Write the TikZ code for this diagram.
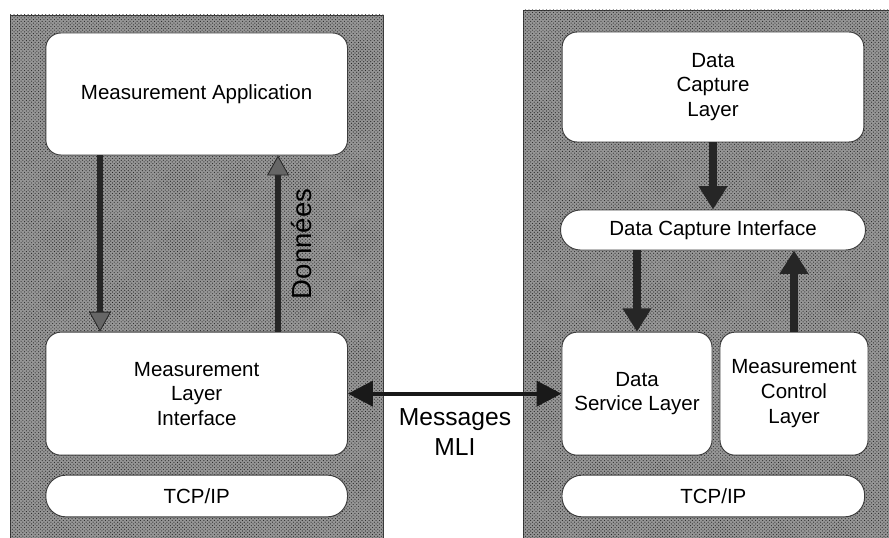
\documentclass[tikz,border=0pt]{standalone}
\usepackage{fontspec}
\setmainfont{Liberation Sans}
\usepackage{tikz}
\usetikzlibrary{arrows.meta,positioning,patterns}
\definecolor{mligray}{RGB}{60,60,60}
\definecolor{mlidots}{RGB}{150,150,150}

\begin{document}
\begin{tikzpicture}[
        panel/.style={draw=mligray, line width=0.8pt, fill=mlidots, postaction={pattern=crosshatch dots, pattern color=black!85}},
        layer/.style={draw=mligray, line width=0.8pt, fill=white, rounded corners=0.45cm, align=center, inner sep=2pt, font=\fontsize{17.5}{21}\selectfont},
        pill/.style={layer, rounded corners=0.6cm, minimum height=1.25cm},
        flow/.style={-{Triangle[length=0.7cm, width=0.82cm]}, line width=6pt, draw=black!85},
        grayflow/.style={-{Triangle[length=0.6cm, width=0.66cm, line width=0.7pt, fill=black!60]}, line width=5pt, draw=black!85},
        msgflow/.style={{Triangle[length=0.75cm, width=0.75cm]}-{Triangle[length=0.75cm, width=0.75cm]}, line width=3.5pt, draw=black!90},
        big/.style={font=\fontsize{21}{26}\selectfont, align=center}
      ]
      \useasboundingbox (0,0) rectangle (26.67,-16.14);
      \fill[white] (0,0) rectangle (26.67,-16.14);

      % two stations
      \path[panel] (0.30,-0.45) rectangle (11.49,-16.40);
      \path[panel] (15.69,-0.30) rectangle (26.90,-16.40);

      % measurement side
      \node[layer, minimum width=9.05cm, minimum height=3.66cm] (app) at (5.90,-2.82) {Measurement Application};
      \node[layer, minimum width=9.05cm, minimum height=3.69cm] (mli) at (5.90,-11.81) {Measurement\\Layer\\Interface};
      \node[pill, minimum width=9.05cm] (tcpl) at (5.90,-14.88) {TCP/IP};
      \draw[grayflow] ([xshift=-2.90cm]app.south) -- ([xshift=-2.90cm]mli.north);
      \draw[grayflow] ([xshift=2.44cm]mli.north) -- ([xshift=2.44cm]app.south);
      \node[big, font=\fontsize{23.5}{28}\selectfont, rotate=90] (data) at (9.05,-7.32) {Données};

      % capture side
      \node[layer, minimum width=9.05cm, minimum height=3.30cm] (dcl) at (21.39,-2.61) {Data\\Capture\\Layer};
      \node[pill, minimum width=9.15cm, minimum height=1.20cm] (dci) at (21.39,-6.90) {Data Capture Interface};
      \node[layer, minimum width=4.50cm, minimum height=3.69cm] (dsl) at (19.11,-11.81) {Data\\Service Layer};
      \node[layer, minimum width=4.44cm, minimum height=3.69cm] (mcl) at (23.82,-11.81) {Measurement\\Control\\Layer};
      \node[pill, minimum width=9.08cm] (tcpr) at (21.40,-14.88) {TCP/IP};
      \draw[flow] (dcl.south) -- (dci.north);
      \draw[flow] (dci.south -| dsl.north) -- (dsl.north);
      \draw[flow] (mcl.north) -- (mcl.north |- dci.south);

      % link between the two
      \draw[msgflow] (mli.east) -- (dsl.west);
      \node[big] (msg) at (13.65,-12.96) {Messages\\MLI};
    \end{tikzpicture}
\end{document}
